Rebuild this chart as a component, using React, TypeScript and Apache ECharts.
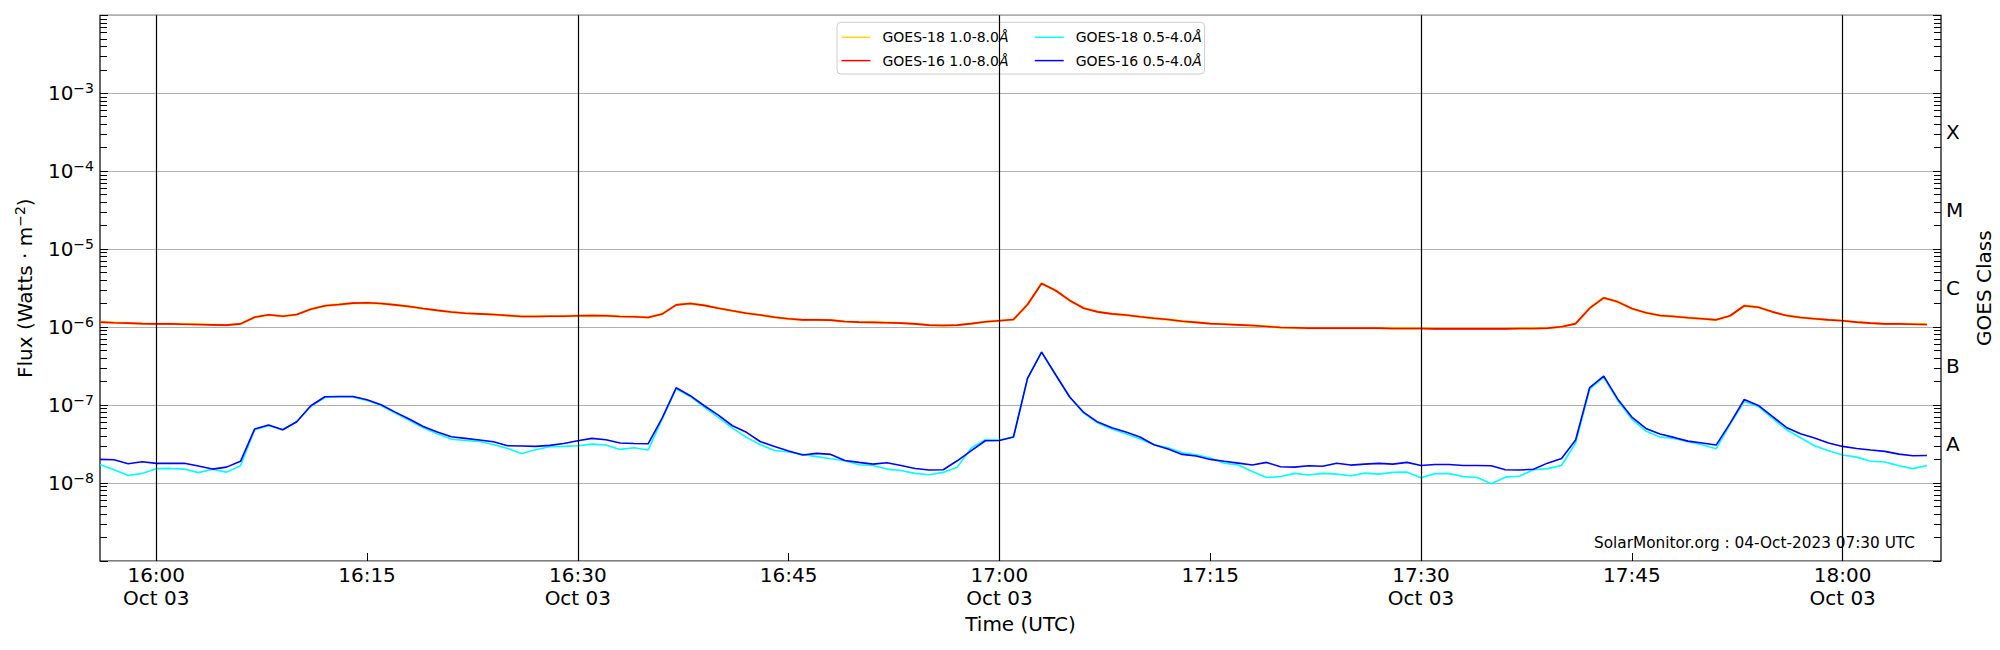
import React, { useEffect, useRef } from "react";
import * as echarts from "echarts";

// ---- time base (1-minute cadence) ----
const START_UTC = Date.UTC(2023, 9, 3, 15, 56);
const END_UTC = Date.UTC(2023, 9, 3, 18, 7);
const CADENCE_MS = 60000;

// ---- flux values, W m^-2 ----
const GOES18_LONG = [
  1.16e-6, 1.14e-6, 1.125e-6, 1.11e-6, 1.1e-6, 1.1e-6, 1.09e-6, 1.08e-6, 1.07e-6, 1.06e-6,
  1.1e-6, 1.34e-6, 1.44e-6, 1.38e-6, 1.45e-6, 1.7e-6, 1.88e-6, 1.95e-6, 2.03e-6, 2.05e-6,
  2.01e-6, 1.93e-6, 1.84e-6, 1.73e-6, 1.64e-6, 1.56e-6, 1.51e-6, 1.48e-6, 1.45e-6, 1.41e-6,
  1.37e-6, 1.37e-6, 1.38e-6, 1.38e-6, 1.4e-6, 1.41e-6, 1.4e-6, 1.37e-6, 1.36e-6, 1.33e-6,
  1.47e-6, 1.93e-6, 2.01e-6, 1.9e-6, 1.75e-6, 1.62e-6, 1.51e-6, 1.43e-6, 1.34e-6, 1.28e-6,
  1.24e-6, 1.24e-6, 1.23e-6, 1.18e-6, 1.16e-6, 1.15e-6, 1.14e-6, 1.125e-6, 1.1e-6, 1.06e-6,
  1.05e-6, 1.06e-6, 1.11e-6, 1.17e-6, 1.21e-6, 1.25e-6, 1.95e-6, 3.63e-6, 2.95e-6, 2.2e-6,
  1.75e-6, 1.57e-6, 1.48e-6, 1.43e-6, 1.36e-6, 1.3e-6, 1.25e-6, 1.19e-6, 1.15e-6, 1.11e-6,
  1.09e-6, 1.07e-6, 1.05e-6, 1.02e-6, 0.99e-6, 0.98e-6, 0.97e-6, 0.97e-6, 0.97e-6, 0.97e-6,
  0.97e-6, 0.97e-6, 0.96e-6, 0.96e-6, 0.96e-6, 0.95e-6, 0.95e-6, 0.95e-6, 0.95e-6, 0.95e-6,
  0.95e-6, 0.96e-6, 0.96e-6, 0.97e-6, 1.01e-6, 1.11e-6, 1.75e-6, 2.38e-6, 2.11e-6, 1.73e-6,
  1.53e-6, 1.41e-6, 1.37e-6, 1.32e-6, 1.28e-6, 1.24e-6, 1.4e-6, 1.88e-6, 1.8e-6, 1.57e-6,
  1.41e-6, 1.33e-6, 1.28e-6, 1.24e-6, 1.21e-6, 1.16e-6, 1.125e-6, 1.1e-6, 1.1e-6, 1.09e-6,
  1.08e-6,
];

const GOES16_LONG = [
  1.16e-6, 1.14e-6, 1.125e-6, 1.11e-6, 1.1e-6, 1.1e-6, 1.09e-6, 1.08e-6, 1.07e-6, 1.06e-6,
  1.1e-6, 1.34e-6, 1.44e-6, 1.38e-6, 1.45e-6, 1.7e-6, 1.88e-6, 1.95e-6, 2.03e-6, 2.05e-6,
  2.01e-6, 1.93e-6, 1.84e-6, 1.73e-6, 1.64e-6, 1.56e-6, 1.51e-6, 1.48e-6, 1.45e-6, 1.41e-6,
  1.37e-6, 1.37e-6, 1.38e-6, 1.38e-6, 1.4e-6, 1.41e-6, 1.4e-6, 1.37e-6, 1.36e-6, 1.33e-6,
  1.47e-6, 1.93e-6, 2.01e-6, 1.9e-6, 1.75e-6, 1.62e-6, 1.51e-6, 1.43e-6, 1.34e-6, 1.28e-6,
  1.24e-6, 1.24e-6, 1.23e-6, 1.18e-6, 1.16e-6, 1.15e-6, 1.14e-6, 1.125e-6, 1.1e-6, 1.06e-6,
  1.05e-6, 1.06e-6, 1.11e-6, 1.17e-6, 1.21e-6, 1.25e-6, 1.95e-6, 3.63e-6, 2.95e-6, 2.2e-6,
  1.75e-6, 1.57e-6, 1.48e-6, 1.43e-6, 1.36e-6, 1.3e-6, 1.25e-6, 1.19e-6, 1.15e-6, 1.11e-6,
  1.09e-6, 1.07e-6, 1.05e-6, 1.02e-6, 0.99e-6, 0.98e-6, 0.97e-6, 0.97e-6, 0.97e-6, 0.97e-6,
  0.97e-6, 0.97e-6, 0.96e-6, 0.96e-6, 0.96e-6, 0.95e-6, 0.95e-6, 0.95e-6, 0.95e-6, 0.95e-6,
  0.95e-6, 0.96e-6, 0.96e-6, 0.97e-6, 1.01e-6, 1.11e-6, 1.75e-6, 2.38e-6, 2.11e-6, 1.73e-6,
  1.53e-6, 1.41e-6, 1.37e-6, 1.32e-6, 1.28e-6, 1.24e-6, 1.4e-6, 1.88e-6, 1.8e-6, 1.57e-6,
  1.41e-6, 1.33e-6, 1.28e-6, 1.24e-6, 1.21e-6, 1.16e-6, 1.125e-6, 1.1e-6, 1.1e-6, 1.09e-6,
  1.08e-6,
];

const GOES18_SHORT = [
  1.73e-8, 1.48e-8, 1.25e-8, 1.33e-8, 1.53e-8, 1.54e-8, 1.51e-8, 1.36e-8, 1.5e-8, 1.38e-8,
  1.67e-8, 4.83e-8, 5.43e-8, 4.83e-8, 6.11e-8, 9.61e-8, 1.25e-7, 1.27e-7, 1.27e-7, 1.15e-7,
  9.9e-8, 7.89e-8, 6.36e-8, 5.12e-8, 4.29e-8, 3.66e-8, 3.52e-8, 3.42e-8, 3.13e-8, 2.78e-8,
  2.4e-8, 2.67e-8, 2.92e-8, 2.95e-8, 3.01e-8, 3.16e-8, 3.07e-8, 2.7e-8, 2.84e-8, 2.65e-8,
  6.62e-8, 1.62e-7, 1.29e-7, 9.43e-8, 6.95e-8, 5.07e-8, 3.85e-8, 3.1e-8, 2.62e-8, 2.5e-8,
  2.33e-8, 2.18e-8, 2.05e-8, 1.93e-8, 1.72e-8, 1.68e-8, 1.51e-8, 1.45e-8, 1.33e-8, 1.28e-8,
  1.37e-8, 1.6e-8, 2.81e-8, 3.59e-8, 3.56e-8, 3.89e-8, 2.2e-7, 4.78e-7, 2.45e-7, 1.27e-7,
  7.89e-8, 5.88e-8, 4.92e-8, 4.29e-8, 3.66e-8, 3.1e-8, 2.84e-8, 2.45e-8, 2.31e-8, 2.09e-8,
  1.8e-8, 1.7e-8, 1.41e-8, 1.18e-8, 1.21e-8, 1.33e-8, 1.27e-8, 1.33e-8, 1.3e-8, 1.24e-8,
  1.34e-8, 1.3e-8, 1.37e-8, 1.38e-8, 1.17e-8, 1.32e-8, 1.32e-8, 1.21e-8, 1.18e-8, 0.98e-8,
  1.19e-8, 1.22e-8, 1.48e-8, 1.53e-8, 1.68e-8, 3.26e-8, 1.6e-7, 2.29e-7, 1.14e-7, 6.62e-8,
  4.64e-8, 3.89e-8, 3.74e-8, 3.39e-8, 3.1e-8, 2.75e-8, 5.71e-8, 1.11e-7, 9.61e-8, 6.81e-8,
  4.83e-8, 3.81e-8, 3.01e-8, 2.6e-8, 2.29e-8, 2.15e-8, 1.9e-8, 1.86e-8, 1.67e-8, 1.53e-8,
  1.68e-8,
];

const GOES16_SHORT = [
  2.01e-8, 1.99e-8, 1.77e-8, 1.88e-8, 1.79e-8, 1.79e-8, 1.79e-8, 1.65e-8, 1.51e-8, 1.6e-8,
  1.9e-8, 4.92e-8, 5.54e-8, 4.83e-8, 6.11e-8, 9.8e-8, 1.28e-7, 1.29e-7, 1.29e-7, 1.17e-7,
  1.01e-7, 8.13e-8, 6.62e-8, 5.32e-8, 4.51e-8, 3.93e-8, 3.74e-8, 3.56e-8, 3.39e-8, 3.01e-8,
  2.98e-8, 2.95e-8, 3.04e-8, 3.22e-8, 3.49e-8, 3.74e-8, 3.59e-8, 3.26e-8, 3.22e-8, 3.19e-8,
  6.81e-8, 1.67e-7, 1.32e-7, 9.8e-8, 7.45e-8, 5.43e-8, 4.47e-8, 3.39e-8, 2.95e-8, 2.57e-8,
  2.29e-8, 2.4e-8, 2.33e-8, 1.95e-8, 1.84e-8, 1.75e-8, 1.82e-8, 1.68e-8, 1.54e-8, 1.47e-8,
  1.48e-8, 1.93e-8, 2.6e-8, 3.49e-8, 3.52e-8, 3.89e-8, 2.2e-7, 4.78e-7, 2.45e-7, 1.27e-7,
  8.05e-8, 6.05e-8, 5.12e-8, 4.51e-8, 3.89e-8, 3.1e-8, 2.73e-8, 2.33e-8, 2.22e-8, 2.01e-8,
  1.9e-8, 1.8e-8, 1.7e-8, 1.84e-8, 1.62e-8, 1.6e-8, 1.67e-8, 1.64e-8, 1.79e-8, 1.7e-8,
  1.75e-8, 1.79e-8, 1.75e-8, 1.84e-8, 1.68e-8, 1.73e-8, 1.73e-8, 1.68e-8, 1.68e-8, 1.67e-8,
  1.48e-8, 1.47e-8, 1.5e-8, 1.8e-8, 2.07e-8, 3.56e-8, 1.68e-7, 2.35e-7, 1.19e-7, 7.02e-8,
  5.02e-8, 4.25e-8, 3.85e-8, 3.45e-8, 3.26e-8, 3.07e-8, 5.88e-8, 1.18e-7, 9.9e-8, 7.16e-8,
  5.17e-8, 4.29e-8, 3.78e-8, 3.26e-8, 2.95e-8, 2.78e-8, 2.65e-8, 2.55e-8, 2.35e-8, 2.24e-8,
  2.26e-8,
];

// ---- axes text ----
const X_TICK_LABELS = ["16:00", "16:15", "16:30", "16:45", "17:00", "17:15", "17:30", "17:45", "18:00"];
const DATE_LABEL = "Oct 03";
const VLINE_TIMES = ["16:00", "16:30", "17:00", "17:30", "18:00"];
const Y_TICK_EXPONENTS = [-8, -7, -6, -5, -4, -3];
const GOES_CLASSES = ["A", "B", "C", "M", "X"];
const GOES_CLASS_EXPONENTS = [-7.5, -6.5, -5.5, -4.5, -3.5];
const SERIES_NAMES = ["GOES-18 1.0-8.0Å", "GOES-16 1.0-8.0Å", "GOES-18 0.5-4.0Å", "GOES-16 0.5-4.0Å"];
const SERIES_COLORS = ["#FFD700", "#FF0000", "#00FFFF", "#0000FF"];
const WATERMARK = "SolarMonitor.org : 04-Oct-2023 07:30 UTC";

const FONT = "DejaVu Sans";

const hm = (s: string) => {
  const [h, m] = s.split(":").map(Number);
  return Date.UTC(2023, 9, 3, h, m);
};
const X_TICK_VALUES = X_TICK_LABELS.map(hm);
const VLINE_VALUES = VLINE_TIMES.map(hm);
const Y_TICK_VALUES = Y_TICK_EXPONENTS.map((e) => Math.pow(10, e));
const CLASS_VALUES = GOES_CLASS_EXPONENTS.map((e) => Math.pow(10, e));
const MINOR_VALUES: number[] = [];
for (let e = -9; e <= -3; e++) {
  for (let m = 2; m <= 9; m++) MINOR_VALUES.push(m * Math.pow(10, e));
}

const toPairs = (vals: number[]) => vals.map((v, i) => [START_UTC + i * CADENCE_MS, v]);

const pad2 = (n: number) => (n < 10 ? "0" + n : "" + n);

const LOG_BASE_AXIS = { type: "log", logBase: 10, min: 1e-9, max: 1e-2, gridIndex: 0 };
const TICK_STYLE = { color: "#000", width: 1 };
const LINE_WIDTHS = [2.3, 1.6, 1.6, 1.6];

function buildOption(): any {
  const series = [GOES18_LONG, GOES16_LONG, GOES18_SHORT, GOES16_SHORT].map((vals, k) => ({
    name: SERIES_NAMES[k],
    type: "line",
    data: toPairs(vals),
    showSymbol: false,
    symbol: "none",
    xAxisIndex: 0,
    yAxisIndex: 0,
    z: 2 + k * 0.01,
    lineStyle: { color: SERIES_COLORS[k], width: LINE_WIDTHS[k] },
    itemStyle: { color: SERIES_COLORS[k] },
    emphasis: { disabled: true },
    ...(k === 3
      ? {
          markLine: {
            silent: true,
            symbol: ["none", "none"],
            label: { show: false },
            emphasis: { disabled: true },
            lineStyle: { color: "#000", width: 1.2, type: "solid" },
            data: VLINE_VALUES.map((t) => ({ xAxis: t })),
          },
        }
      : {}),
  }));

  const legendText = {
    fontFamily: FONT,
    fontSize: 14,
    color: "#000",
    rich: {
      n: { fontFamily: FONT, fontSize: 14, color: "#000", lineHeight: 14, padding: [0, 0, 0, 7] },
      i: { fontFamily: FONT, fontSize: 14, color: "#000", lineHeight: 14, fontStyle: "italic" },
    },
  };
  const legendFormatter = (name: string) => `{n|${name.replace("Å", "")}}{i|Å}`;
  const legendCommon = {
    orient: "vertical",
    top: 30.3,
    itemWidth: 29,
    itemHeight: 14,
    itemGap: 9.3,
    selectedMode: false,
    padding: 0,
    z: 6,
    itemStyle: { opacity: 0 },
    lineStyle: { width: 1.5 },
    textStyle: legendText,
    formatter: legendFormatter,
  };

  return {
    animation: false,
    backgroundColor: "#ffffff",
    textStyle: { fontFamily: FONT },
    grid: {
      left: 100,
      right: 59,
      top: 15.3,
      bottom: 89,
      show: true,
      borderColor: "#000",
      borderWidth: 1.2,
      backgroundColor: "transparent",
      outerBoundsMode: "none",
    },
    legend: [
      { ...legendCommon, left: 840.7, data: [SERIES_NAMES[0], SERIES_NAMES[1]] },
      { ...legendCommon, left: 1034, data: [SERIES_NAMES[2], SERIES_NAMES[3]] },
    ],
    xAxis: {
      type: "value",
      min: START_UTC,
      max: END_UTC,
      position: "bottom",
      name: "Time (UTC)",
      nameLocation: "middle",
      nameGap: 53,
      nameTextStyle: { fontFamily: FONT, fontSize: 20, color: "#000" },
      axisLine: { show: false },
      splitLine: { show: false },
      axisTick: { show: true, inside: true, length: 8, customValues: X_TICK_VALUES, lineStyle: TICK_STYLE },
      axisLabel: {
        customValues: X_TICK_VALUES,
        margin: 2,
        fontFamily: FONT,
        fontSize: 20,
        lineHeight: 23,
        color: "#000",
        hideOverlap: false,
        formatter: (v: number) => {
          const d = new Date(v);
          const m = d.getUTCMinutes();
          const t = pad2(d.getUTCHours()) + ":" + pad2(m);
          return m % 30 === 0 ? t + "\n" + DATE_LABEL : t;
        },
      },
    },
    yAxis: [
      {
        ...LOG_BASE_AXIS,
        position: "left",
        name: "{n|Flux (Watts · m}{s|−2}{n|)}",
        nameLocation: "middle",
        nameRotate: 90,
        nameGap: 63,
        nameTextStyle: {
          fontFamily: FONT,
          fontSize: 20,
          color: "#000",
          rich: {
            n: { fontFamily: FONT, fontSize: 20, color: "#000", lineHeight: 24 },
            s: { fontFamily: FONT, fontSize: 14, color: "#000", verticalAlign: "top" },
          },
        },
        axisLine: { show: false },
        axisTick: { show: true, inside: true, length: 8, lineStyle: TICK_STYLE },
        splitLine: { show: true, lineStyle: { color: "#b0b0b0", width: 1 } },
        axisLabel: {
          customValues: Y_TICK_VALUES,
          margin: 6,
          color: "#000",
          formatter: (v: number) => `{b|10}{s|−${Math.abs(Math.round(Math.log10(v)))}}`,
          rich: {
            b: { fontFamily: FONT, fontSize: 20, color: "#000", lineHeight: 24 },
            s: { fontFamily: FONT, fontSize: 14, color: "#000", verticalAlign: "top" },
          },
        },
      },
      {
        ...LOG_BASE_AXIS,
        position: "left",
        axisLine: { show: false },
        splitLine: { show: false },
        axisLabel: { show: false },
        axisTick: { show: true, inside: true, length: 7, customValues: MINOR_VALUES, lineStyle: TICK_STYLE },
      },
      {
        ...LOG_BASE_AXIS,
        position: "right",
        name: "GOES Class",
        nameLocation: "middle",
        nameRotate: 90,
        nameGap: 13,
        nameTextStyle: { fontFamily: FONT, fontSize: 20, color: "#000" },
        axisLine: { show: false },
        splitLine: { show: false },
        axisTick: { show: true, inside: true, length: 8, lineStyle: TICK_STYLE },
        axisLabel: {
          customValues: CLASS_VALUES,
          margin: 5,
          fontFamily: FONT,
          fontSize: 20,
          color: "#000",
          formatter: (v: number) => {
            const lv = Math.log10(v);
            const k = GOES_CLASS_EXPONENTS.findIndex((e) => Math.abs(e - lv) < 0.1);
            return k >= 0 ? GOES_CLASSES[k] : "";
          },
        },
      },
      {
        ...LOG_BASE_AXIS,
        position: "right",
        axisLine: { show: false },
        splitLine: { show: false },
        axisLabel: { show: false },
        axisTick: { show: true, inside: true, length: 7, customValues: MINOR_VALUES, lineStyle: TICK_STYLE },
      },
    ],
    graphic: [
      {
        type: "rect",
        z: 5,
        silent: true,
        shape: { x: 837, y: 22.3, width: 367.6, height: 51.7, r: 4 },
        style: { fill: "rgba(255,255,255,0.8)", stroke: "#cccccc", lineWidth: 1 },
      },
      {
        type: "text",
        z: 6,
        silent: true,
        x: 1915,
        y: 543,
        style: {
          text: WATERMARK,
          fontFamily: FONT,
          fontSize: 15.3,
          fill: "#000",
          align: "right",
          verticalAlign: "middle",
        },
      },
    ],
    series,
  };
}

export default function App() {
  const ref = useRef<HTMLDivElement>(null);
  useEffect(() => {
    if (!ref.current) return;
    const chart = echarts.init(ref.current, null, { renderer: "svg" });
    chart.setOption(buildOption());
    return () => chart.dispose();
  }, []);
  return (
    <div
      ref={ref}
      style={{ position: "absolute", left: 0, top: 0, width: 2000, height: 650, background: "#fff" }}
    />
  );
}
